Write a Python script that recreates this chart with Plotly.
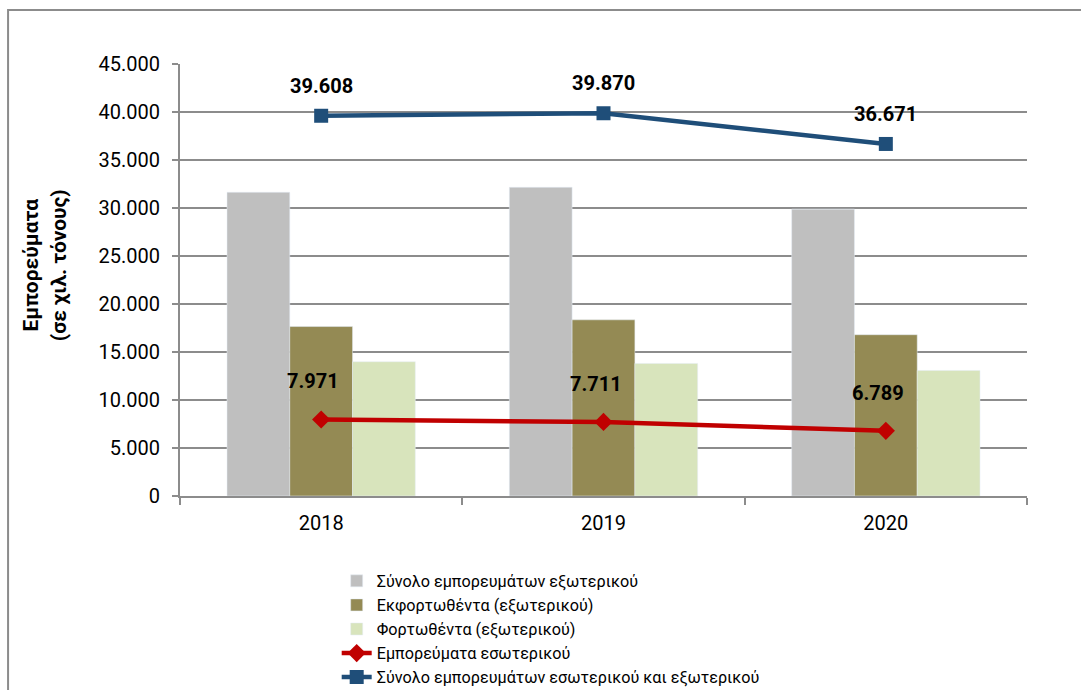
import plotly.graph_objects as go

years = ["2018", "2019", "2020"]
total_foreign = [31637, 32159, 29882]
unloaded_foreign = [17650, 18350, 16800]
loaded_foreign = [13987, 13809, 13082]
domestic = [7971, 7711, 6789]
total_all = [39608, 39870, 36671]

names = [
    "Σύνολο εμπορευμάτων εξωτερικού",
    "Εκφορτωθέντα (εξωτερικού)",
    "Φορτωθέντα (εξωτερικού)",
    "Εμπορεύματα εσωτερικού",
    "Σύνολο εμπορευμάτων εσωτερικού και εξωτερικού",
]

FONT = "Roboto"
fig = go.Figure()
fig.add_trace(go.Bar(x=years, y=total_foreign, name=names[0], marker_color="#BFBFBF"))
fig.add_trace(go.Bar(x=years, y=unloaded_foreign, name=names[1], marker_color="#948A54"))
fig.add_trace(go.Bar(x=years, y=loaded_foreign, name=names[2], marker_color="#D8E4BC"))
fig.add_trace(go.Scatter(x=years, y=domestic, name=names[3], mode="lines+markers",
                         line=dict(color="#C00000", width=4.5),
                         marker=dict(symbol="diamond", size=14, color="#C00000")))
fig.add_trace(go.Scatter(x=years, y=total_all, name=names[4], mode="lines+markers",
                         line=dict(color="#1F4E79", width=4.5),
                         marker=dict(symbol="square", size=14, color="#1F4E79")))

def fmt(v):
    return f"{v:,}".replace(",", ".")

for i, yv in enumerate(domestic):
    fig.add_annotation(x=i, y=yv, text=f"<b>{fmt(yv)}</b>", showarrow=False,
                       yshift=38, xshift=-8, font=dict(family=FONT, size=20, color="black"))
for i, yv in enumerate(total_all):
    fig.add_annotation(x=i, y=yv, text=f"<b>{fmt(yv)}</b>", showarrow=False,
                       yshift=30, font=dict(family=FONT, size=20, color="black"))

fig.add_annotation(xref="paper", yref="paper", x=-0.159, y=0.535, textangle=-90,
                   xanchor="center", yanchor="middle",
                   text="<b>Εμπορεύματα<br>(σε χιλ. τόνους)</b>", showarrow=False,
                   font=dict(family=FONT, size=21, color="black"))

fig.add_shape(type="rect", xref="paper", yref="paper", x0=-0.203, y0=-0.6, x1=1.2, y1=1.125,
              line=dict(color="#8C8C8C", width=2), fillcolor="rgba(0,0,0,0)", layer="below")

fig.update_layout(
    width=1081, height=690,
    margin=dict(l=180, r=54, t=64, b=194, autoexpand=False),
    paper_bgcolor="white", plot_bgcolor="white",
    separators=",.",
    barmode="group", bargap=0.333, bargroupgap=0,
    font=dict(family=FONT, size=17, color="black"),
    showlegend=True,
    legend=dict(x=0.185, xanchor="left", y=-0.157, yanchor="top",
                font=dict(family=FONT, size=16.2, color="black"),
                tracegroupgap=0, itemwidth=30, traceorder="normal"),
)
fig.update_xaxes(type="category", showline=True, linecolor="#8C8C8C", linewidth=2,
                 ticks="outside", tickson="boundaries", ticklen=7, tickcolor="#8C8C8C",
                 tickwidth=2, showgrid=False, ticklabelstandoff=8,
                 tickfont=dict(family=FONT, size=20))
fig.update_yaxes(range=[0, 45000], dtick=5000, tickformat=",d", showline=True,
                 linecolor="#8C8C8C", linewidth=2, ticks="outside", ticklen=6,
                 tickcolor="#8C8C8C", tickwidth=2, showgrid=True, gridcolor="#8C8C8C",
                 gridwidth=1.5, zeroline=False, ticklabelstandoff=8,
                 tickfont=dict(family=FONT, size=20))

fig.write_html("out.html")
